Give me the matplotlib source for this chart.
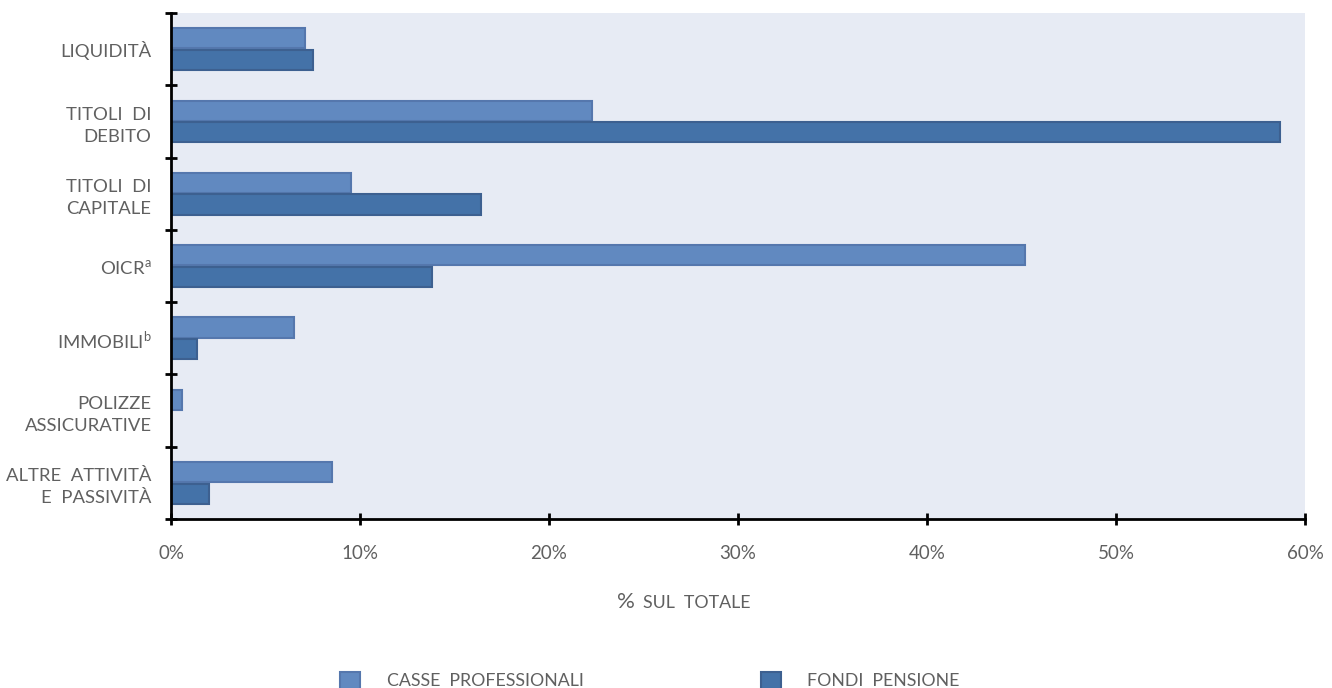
import numpy as np
import matplotlib
matplotlib.use("Agg")
import matplotlib.pyplot as plt
from matplotlib.ticker import FixedLocator, PercentFormatter

plt.rcParams['font.family'] = ['Lato', 'DejaVu Sans']
plt.rcParams['mathtext.fontset'] = 'custom'
plt.rcParams['mathtext.rm'] = 'Lato'

# data (% sul totale)
categorie = ['LIQUIDITÀ', 'TITOLI  DI\nDEBITO', 'TITOLI  DI\nCAPITALE', 'OICR$^\\mathregular{a}$',
             'IMMOBILI$^\\mathregular{b}$', 'POLIZZE\nASSICURATIVE', 'ALTRE  ATTIVITÀ\nE  PASSIVITÀ']
casse = [7.1, 22.3, 9.5, 45.2, 6.5, 0.6, 8.5]
fondi = [7.5, 58.7, 16.4, 13.8, 1.4, 0.0, 2.0]

grey = '#606060'
c_casse = '#6189C0'
c_fondi = '#4472A8'

fig = plt.figure(figsize=(13.32, 6.88), dpi=100)
ax = fig.add_axes([0.1284, 0.2456, 0.8513, 0.7354])
ax.set_facecolor('#E7EBF4')

y = np.arange(len(categorie))
h = 0.28
ax.barh(y - h / 2 - 0.01, casse, height=h, color=c_casse, edgecolor='#5577AD', linewidth=1.5,
        label='CASSE  PROFESSIONALI')
ax.barh(y + h / 2 + 0.01, fondi, height=h, color=c_fondi, edgecolor='#3D6090', linewidth=1.5,
        label='FONDI  PENSIONE')

ax.set_ylim(len(categorie) - 0.5, -0.5)
ax.set_xlim(0, 60)

# category boundaries get the tick marks, labels sit in between
ax.yaxis.set_major_locator(FixedLocator(np.arange(-0.5, len(categorie), 1.0)))
ax.yaxis.set_minor_locator(FixedLocator(y))
ax.set_yticklabels([])
ax.set_yticklabels(categorie, minor=True)
ax.tick_params(axis='y', which='major', direction='inout', length=9, width=2, color='black')
ax.tick_params(axis='y', which='minor', length=0, pad=14, labelsize=13.3, labelcolor=grey)
for lab in ax.get_yticklabels(minor=True):
    lab.set_linespacing(1.45)

ax.set_xticks(np.arange(0, 61, 10))
ax.xaxis.set_major_formatter(PercentFormatter(decimals=0))
ax.tick_params(axis='x', direction='inout', length=9, width=2, color='black',
               labelsize=13.5, labelcolor=grey, pad=14)

for s in ['top', 'right']:
    ax.spines[s].set_visible(False)
for s in ['left', 'bottom']:
    ax.spines[s].set_linewidth(2)
    ax.spines[s].set_color('black')

fig.text(0.477, 0.116, '%', fontsize=16, color=grey, ha='right', va='baseline')
fig.text(0.483, 0.116, 'SUL  TOTALE', fontsize=12.8, color=grey, ha='left', va='baseline')

fig.legend(loc='lower center', bbox_to_anchor=(0.488, -0.025), ncol=2, frameon=False,
           fontsize=12.8, labelcolor=grey, handlelength=1.1, handleheight=1.1,
           columnspacing=10.0, handletextpad=1.5)

fig.savefig('out.png', dpi=100)
